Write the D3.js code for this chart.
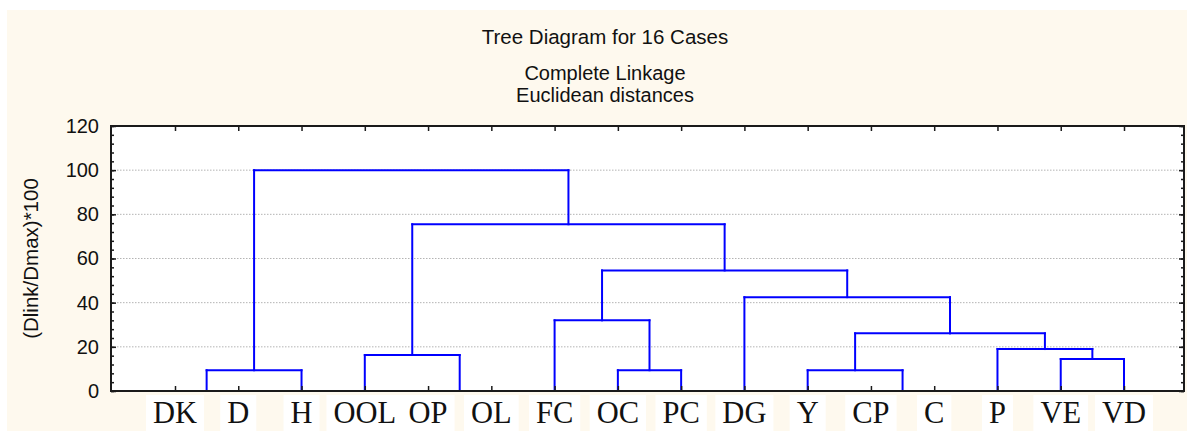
<!DOCTYPE html>
<html>
<head>
<meta charset="utf-8">
<script src="https://cdn.jsdelivr.net/npm/d3@7"></script>
<style>
  html, body { margin: 0; padding: 0; background: #ffffff; }
  svg { display: block; }
</style>
</head>
<body>
<svg id="chart" width="1187" height="431"></svg>
<script>
// ---- data ----
const leaves = ["DK","D","H","OOL","OP","OL","FC","OC","PC","DG","Y","CP","C","P","VE","VD"];
// merge steps: negative = leaf (1-based), positive = earlier merge step (1-based)
const mergeLeft   = [-1, -5, -12,  1, -8, -11, -15, -4, -14,  6, -7, -10, 11,  8,  4];
const mergeRight  = [-2, -6, -13, -3, -9,   3, -16,  2,   7,  9,  5,  10, 12, 13, 14];
const mergeHeight = [ 0,  0,   0, 9.4, 9.4, 9.4, 14.5, 16.3, 19.0, 26.1, 32.0, 42.5, 54.6, 75.5, 100];
const yTickValues = [0, 20, 40, 60, 80, 100, 120];
const titleLines = ["Tree Diagram for 16 Cases", "Complete Linkage", "Euclidean distances"];
const yAxisTitle = "(Dlink/Dmax)*100";

// ---- layout ----
const W = 1187, H = 431;
const plot = { left: 111, right: 1184, top: 126, bottom: 391 };
const svg = d3.select("#chart");

svg.append("rect").attr("x", 7).attr("y", 10).attr("width", W - 7).attr("height", H - 10)
  .attr("fill", "#fef9ee");

const x = d3.scaleLinear().domain([1, 16]).range([175, 1124]);
const y = d3.scaleLinear().domain([0, 120]).range([plot.bottom, plot.top]);

// plot background
svg.append("rect").attr("x", plot.left).attr("y", plot.top)
  .attr("width", plot.right - plot.left).attr("height", plot.bottom - plot.top)
  .attr("fill", "#ffffff");

// gridlines
svg.append("g").selectAll("line")
  .data(yTickValues.filter(v => v > 0 && v < 120))
  .join("line")
  .attr("x1", plot.left).attr("x2", plot.right)
  .attr("y1", d => y(d)).attr("y2", d => y(d))
  .attr("stroke", "#b4b4b4").attr("stroke-width", 1)
  .attr("stroke-dasharray", "1.5,1.5");

// ---- dendrogram ----
const nodeX = [], nodeH = [];
function pos(ref) {
  if (ref < 0) return { x: x(-ref), h: 0 };
  return { x: nodeX[ref - 1], h: nodeH[ref - 1] };
}
const segs = [];
mergeHeight.forEach((h, i) => {
  const a = pos(mergeLeft[i]), b = pos(mergeRight[i]);
  nodeX[i] = (a.x + b.x) / 2;
  nodeH[i] = h;
  if (h > 0) {
    segs.push([a.x, a.h, a.x, h]);
    segs.push([b.x, b.h, b.x, h]);
    segs.push([a.x, h, b.x, h]);
  }
});
svg.append("g").selectAll("path")
  .data(segs)
  .join("path")
  .attr("d", d => `M${d[0]},${y(d[1])}L${d[2]},${y(d[3])}`)
  .attr("stroke", "#0000ff").attr("stroke-width", 2)
  .attr("fill", "none").attr("stroke-linecap", "square");

// ---- axes ----
const axisColor = "#1a1a1a";
const minorTicks = d3.range(0, 121, 4);

function styleAxis(g) {
  g.select(".domain").remove();
  g.selectAll(".tick line").attr("stroke", axisColor).attr("stroke-width", 1.5);
}

// left axis
const gl = svg.append("g").attr("transform", `translate(${plot.left},0)`)
  .call(d3.axisLeft(y).tickValues(minorTicks).tickSize(-3).tickFormat(""));
styleAxis(gl);
const glm = svg.append("g").attr("transform", `translate(${plot.left},0)`)
  .call(d3.axisLeft(y).tickValues(yTickValues).tickSize(-5).tickPadding(12).tickFormat(d3.format("d")));
styleAxis(glm);
glm.selectAll(".tick text")
  .attr("font-family", "'Liberation Sans', Arial, sans-serif")
  .attr("font-size", 20).attr("fill", "#111111");

// right axis
const gr = svg.append("g").attr("transform", `translate(${plot.right},0)`)
  .call(d3.axisRight(y).tickValues(minorTicks).tickSize(-3).tickFormat(""));
styleAxis(gr);
const grm = svg.append("g").attr("transform", `translate(${plot.right},0)`)
  .call(d3.axisRight(y).tickValues(yTickValues).tickSize(-5).tickFormat(""));
styleAxis(grm);

// top axis
const gt = svg.append("g").attr("transform", `translate(0,${plot.top})`)
  .call(d3.axisTop(x).tickValues(d3.range(1, 17)).tickSize(-5).tickFormat(""));
styleAxis(gt);

// bottom axis
const gb = svg.append("g").attr("transform", `translate(0,${plot.bottom})`)
  .call(d3.axisBottom(x).tickValues(d3.range(1, 17)).tickSize(-5).tickFormat(""));
styleAxis(gb);

// frame
svg.append("rect").attr("x", plot.left).attr("y", plot.top)
  .attr("width", plot.right - plot.left).attr("height", plot.bottom - plot.top)
  .attr("fill", "none").attr("stroke", axisColor).attr("stroke-width", 2);

// ---- leaf labels (with pasted white boxes) ----
const lblG = svg.append("g");
const lblItems = lblG.selectAll("g").data(leaves).join("g")
  .attr("transform", (d, i) => `translate(${x(i + 1)},0)`);
const lblText = lblItems.append("text")
  .attr("x", 0).attr("y", 423)
  .attr("text-anchor", "middle")
  .attr("font-family", "'Liberation Serif', 'Times New Roman', serif")
  .attr("font-size", 30.5).attr("fill", "#111111")
  .text(d => d);
lblItems.each(function() {
  const t = d3.select(this).select("text");
  const bb = t.node().getBBox();
  d3.select(this).insert("rect", "text")
    .attr("x", bb.x - 7).attr("y", 395)
    .attr("width", bb.width + 14).attr("height", H - 395)
    .attr("fill", "#ffffff");
});

// ---- titles ----
const titleY = [44, 80, 102];
const titleSize = [20.5, 20, 20];
svg.append("g").selectAll("text").data(titleLines).join("text")
  .attr("x", 605).attr("y", (d, i) => titleY[i])
  .attr("text-anchor", "middle")
  .attr("font-family", "'Liberation Sans', Arial, sans-serif")
  .attr("font-size", (d, i) => titleSize[i]).attr("fill", "#111111")
  .text(d => d);

// y-axis title
svg.append("text")
  .attr("transform", `translate(38,${(plot.top + plot.bottom) / 2}) rotate(-90)`)
  .attr("text-anchor", "middle")
  .attr("font-family", "'Liberation Sans', Arial, sans-serif")
  .attr("font-size", 20.5).attr("fill", "#111111")
  .text(yAxisTitle);
</script>
</body>
</html>
